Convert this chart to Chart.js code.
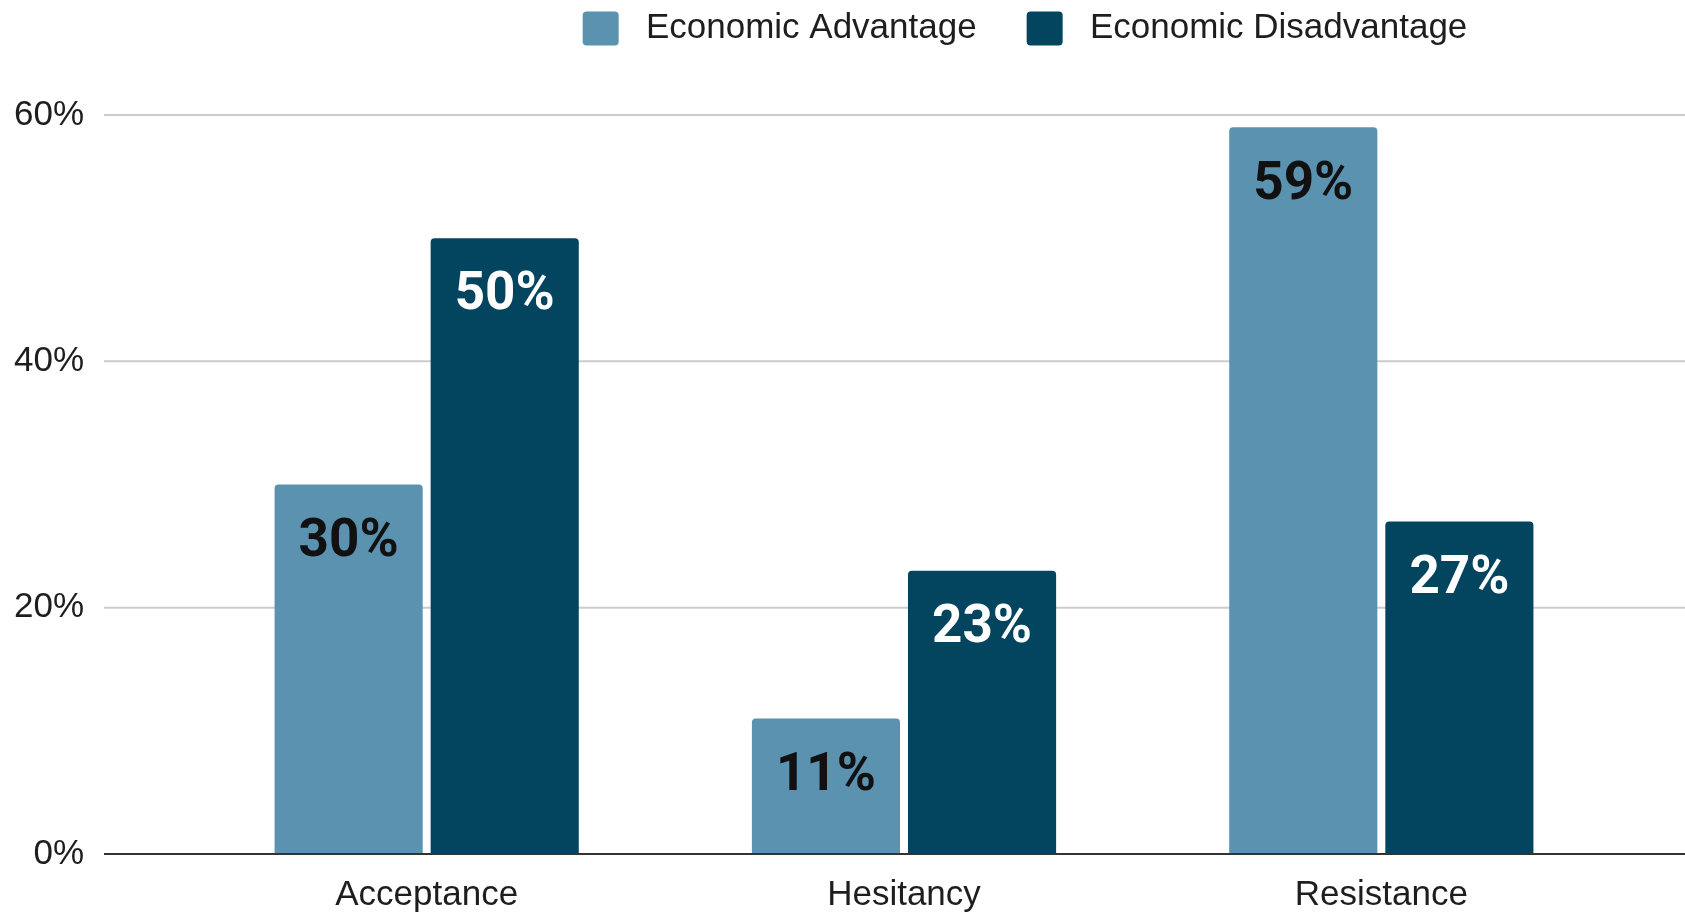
<!DOCTYPE html>
<html>
<head>
<meta charset="utf-8">
<script src="https://cdn.jsdelivr.net/npm/chart.js@4.4.1/dist/chart.umd.min.js"></script>
<style>
html,body{margin:0;padding:0;background:#ffffff;}
#wrap{width:1685px;height:914px;position:relative;}
</style>
</head>
<body>
<div id="wrap"><canvas id="c" width="1685" height="914"></canvas></div>
<script>
// ---- data ----
const categories = ['Acceptance', 'Hesitancy', 'Resistance'];
const seriesNames = ['Economic Advantage', 'Economic Disadvantage'];
const advantageValues = [30, 11, 59];
const disadvantageValues = [50, 23, 27];
const yTickValues = [0, 20, 40, 60];
const yTickLabels = ['0%', '20%', '40%', '60%'];

// ---- style ----
const lightColor = '#5a92b0';
const darkColor = '#03445f';
const textColor = '#1e1e1e';
const axisFont = {family: '"Liberation Sans", Arial, sans-serif', size: 35};

// grid lines extended beyond the plot area, drawn at the y scale's ticks
const extendedGrid = {
  id: 'extendedGrid',
  beforeDatasetsDraw(chart, args, opts) {
    const ys = chart.scales.y, ctx = chart.ctx;
    ctx.save();
    ctx.lineWidth = 2;
    ctx.strokeStyle = opts.color;
    ys.ticks.forEach(t => {
      if (t.value === 0) return;
      const y = ys.getPixelForValue(t.value);
      ctx.beginPath();
      ctx.moveTo(chart.chartArea.left - opts.leftExtra, y);
      ctx.lineTo(chart.width, y);
      ctx.stroke();
    });
    ctx.restore();
  },
  afterDatasetsDraw(chart, args, opts) {
    const ys = chart.scales.y, ctx = chart.ctx;
    const y = ys.getPixelForValue(0);
    ctx.save();
    ctx.lineWidth = 2;
    ctx.strokeStyle = opts.zeroColor;
    ctx.beginPath();
    ctx.moveTo(chart.chartArea.left - opts.leftExtra, y);
    ctx.lineTo(chart.width, y);
    ctx.stroke();
    ctx.restore();
  }
};

// value labels inside bars
const valueLabels = {
  id: 'valueLabels',
  afterDatasetsDraw(chart, args, opts) {
    const ctx = chart.ctx;
    ctx.save();
    ctx.font = opts.font;
    ctx.textAlign = 'center';
    ctx.textBaseline = 'middle';
    chart.data.datasets.forEach((ds, di) => {
      const meta = chart.getDatasetMeta(di);
      ctx.fillStyle = opts.colors[di];
      meta.data.forEach((el, i) => {
        ctx.fillText(ds.data[i] + '%', el.x, el.y + opts.offset);
      });
    });
    ctx.restore();
  }
};

// move the legend row to its place
const legendPlace = {
  id: 'legendPlace',
  afterLayout(chart, args, opts) {
    const l = chart.legend;
    if (!l) return;
    const dx = opts.centerX - (l.left + l.right) / 2;
    const dy = opts.rowTop - (l.top + l.options.labels.padding);
    l.left += dx; l.right += dx;
    l.top += dy; l.bottom += dy;
  }
};

new Chart(document.getElementById('c'), {
  type: 'bar',
  data: {
    labels: categories,
    datasets: [
      {label: seriesNames[0], data: advantageValues, backgroundColor: lightColor},
      {label: seriesNames[1], data: disadvantageValues, backgroundColor: darkColor}
    ]
  },
  options: {
    responsive: false,
    animation: false,
    devicePixelRatio: 1,
    layout: {padding: {left: 0, right: 65, top: 20, bottom: 0}},
    datasets: {
      bar: {
        categoryPercentage: 0.654,
        barPercentage: 0.949,
        borderRadius: {topLeft: 4, topRight: 4, bottomLeft: 0, bottomRight: 0},
        borderSkipped: 'bottom'
      }
    },
    scales: {
      x: {
        grid: {display: false},
        border: {display: false},
        ticks: {color: textColor, font: axisFont, padding: 12},
        afterFit(s) { s.height = 60; }
      },
      y: {
        min: 0, max: 60,
        grid: {display: true, drawOnChartArea: false, drawTicks: true, tickLength: 104, tickColor: 'rgba(0,0,0,0)'},
        border: {display: false},
        afterBuildTicks(s) { s.ticks = yTickValues.map(v => ({value: v})); },
        ticks: {
          color: textColor, font: axisFont, padding: 0,
          callback: (v) => yTickLabels[yTickValues.indexOf(v)]
        },
        afterFit(s) { s.width = 188; }
      }
    },
    plugins: {
      tooltip: {enabled: false},
      legend: {
        position: 'top',
        labels: {
          color: textColor,
          font: axisFont,
          boxWidth: 36,
          boxHeight: 34,
          padding: 50,
          useBorderRadius: true,
          borderRadius: 4,
          generateLabels(chart) {
            const items = Chart.defaults.plugins.legend.labels.generateLabels(chart);
            items.forEach(it => { it.text = ' ' + it.text; it.lineWidth = 0; });
            return items;
          }
        }
      },
      extendedGrid: {color: '#cccccc', zeroColor: '#333333', leftExtra: 84},
      valueLabels: {font: 'bold 53px Roboto, "Liberation Sans", sans-serif', colors: ['#111111', '#ffffff'], offset: 58},
      legendPlace: {centerX: 1025, rowTop: 11}
    }
  },
  plugins: [extendedGrid, valueLabels, legendPlace]
});
</script>
</body>
</html>
